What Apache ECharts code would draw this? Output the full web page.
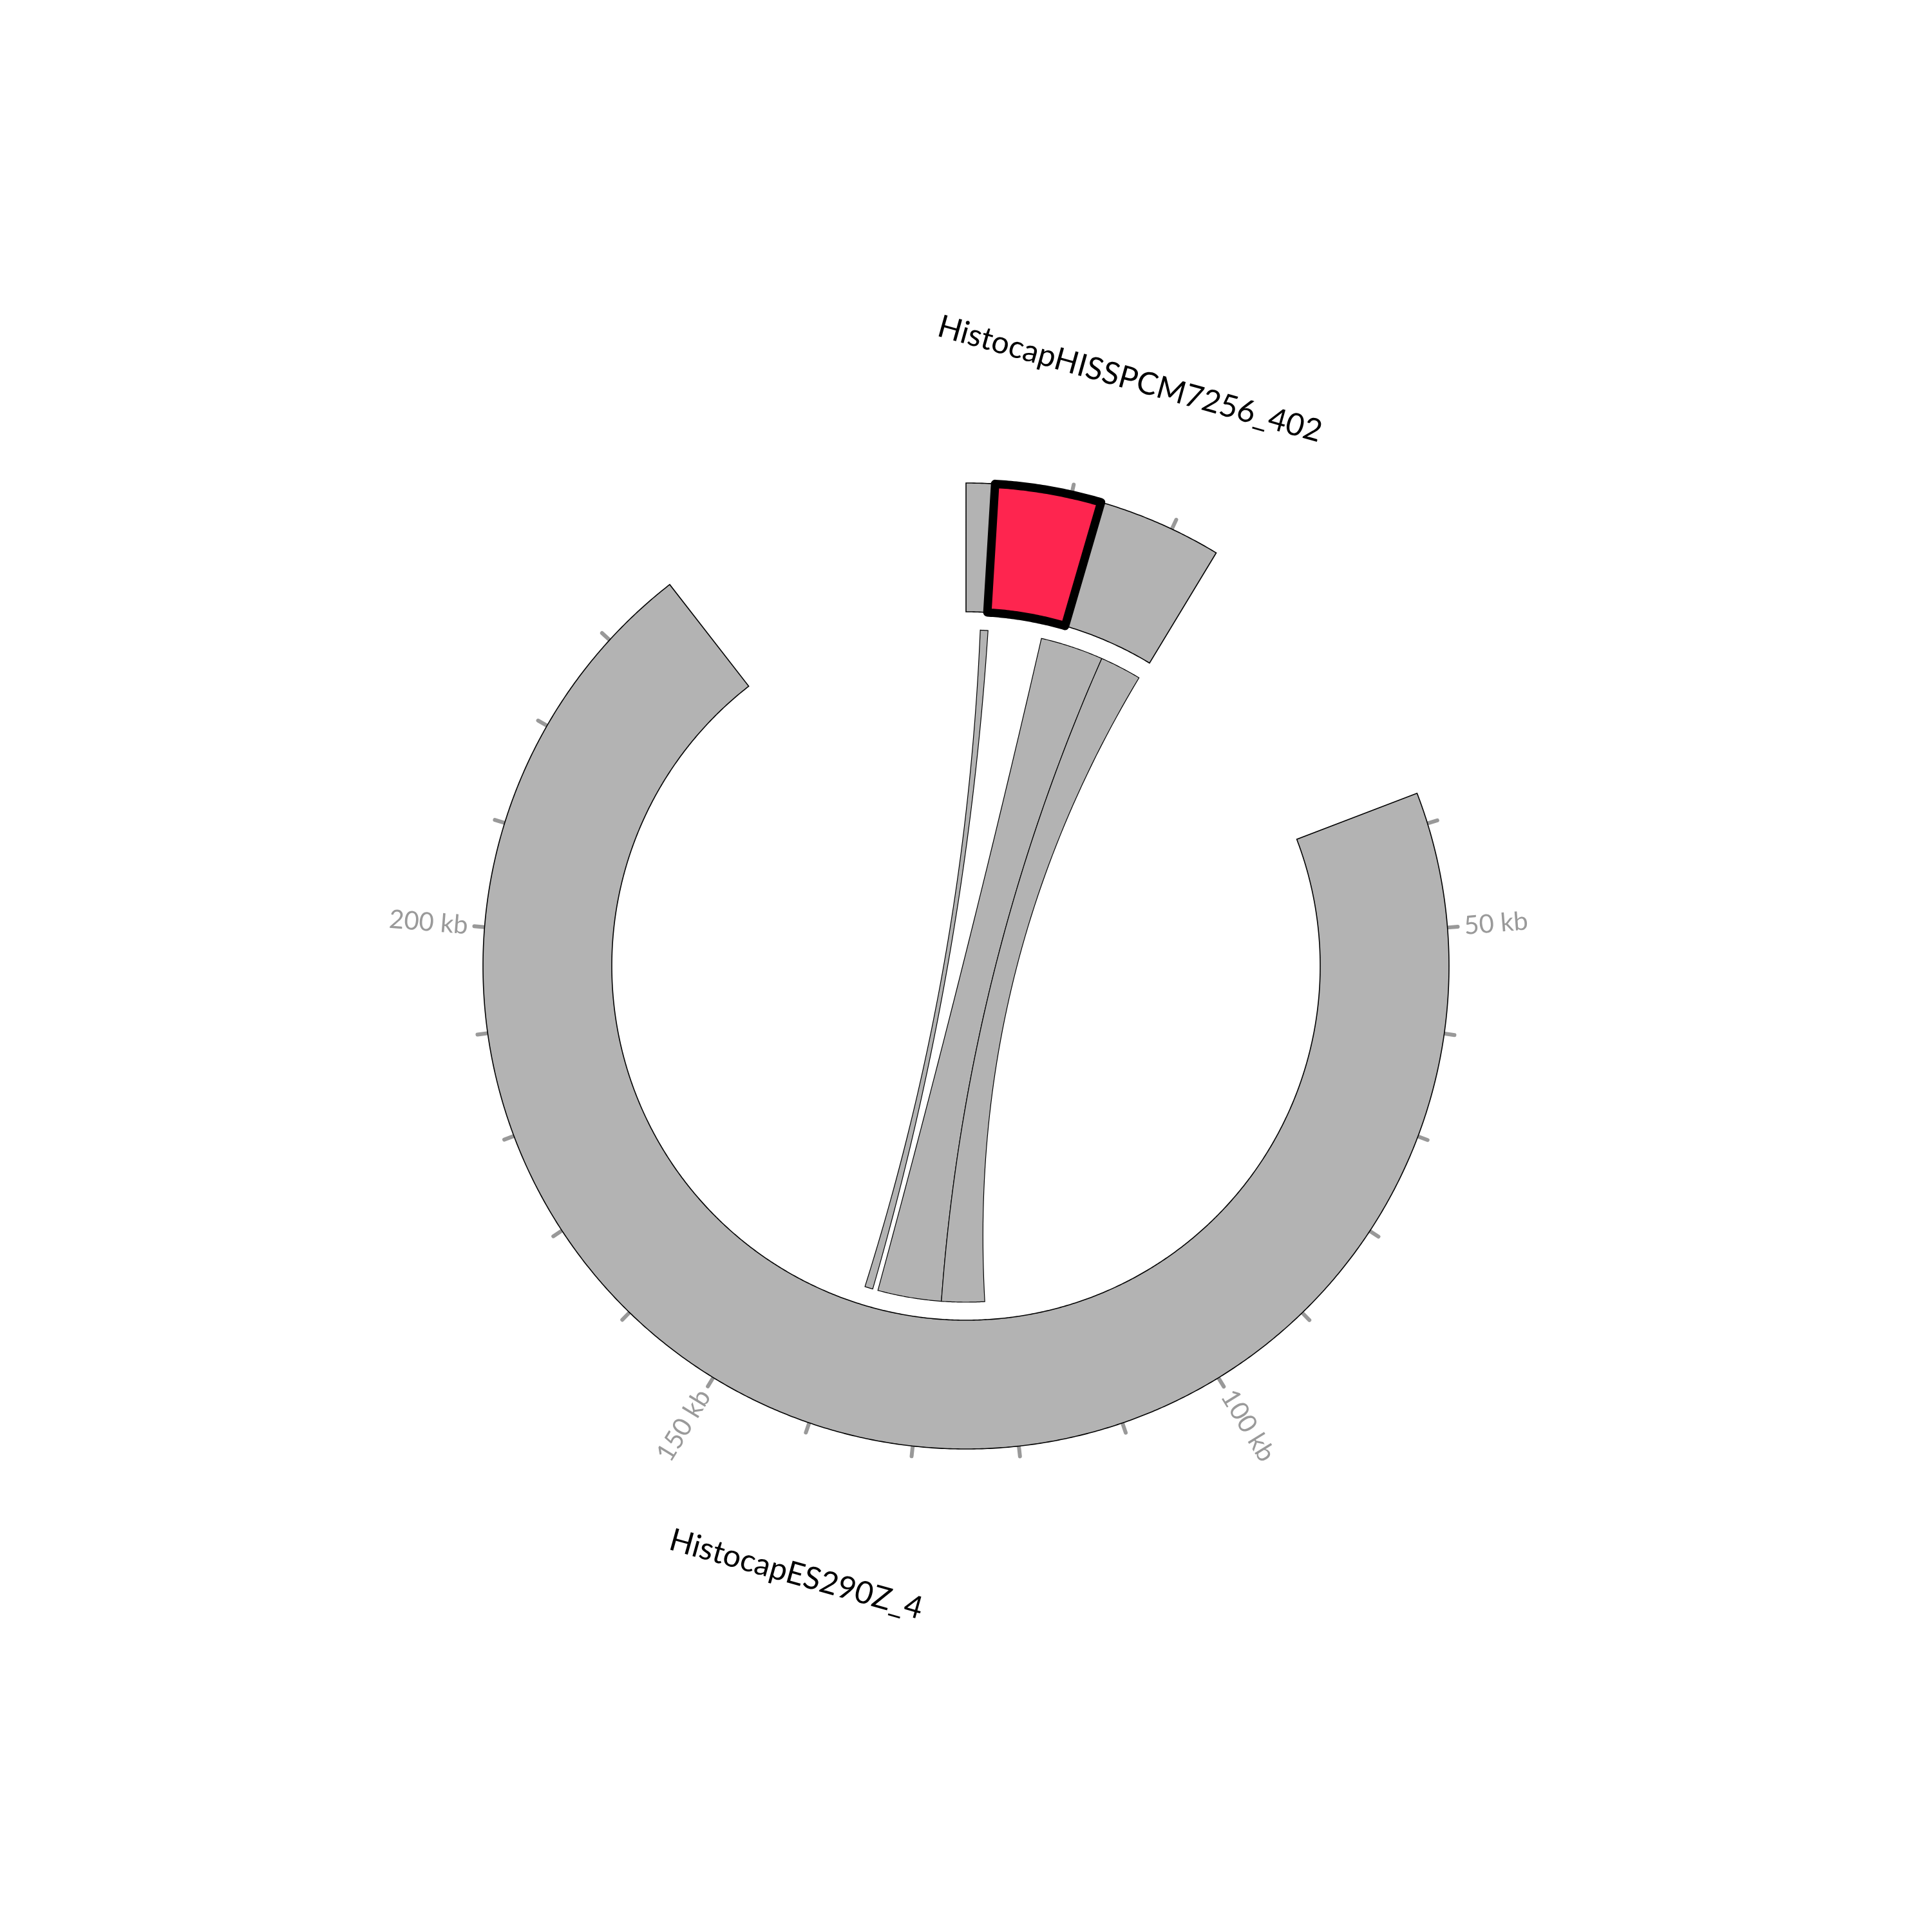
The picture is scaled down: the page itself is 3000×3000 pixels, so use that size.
<!DOCTYPE html>
<html><head><meta charset="utf-8">
<script src="https://cdn.jsdelivr.net/npm/echarts@6/dist/echarts.min.js"></script>
<style>html,body{margin:0;padding:0;background:#fff}#c{width:3000px;height:3000px}</style>
</head><body><div id="c"></div>
<script>
// ---- data ----
const contigNames = ['HistocapHISSPCM7256_402', 'HistocapES290Z_4'];
const contigStartKb = [0, 37.0];
const contigEndKb = [24.74, 237.7];
const gapKb = 30;
const smallTicksKb = [10, 20];
const bigTicksKb = [40, 50, 60, 70, 80, 90, 100, 110, 120, 130, 140, 150, 160, 170, 180, 190, 200, 210, 220, 230];
const bigTickLabelsKb = [50, 100, 150, 200];
const linkSrcContig = [0, 0, 0];
const linkSrcStart = [1.93, 10.28, 18.89];
const linkSrcEnd = [2.98, 18.89, 24.56];
const linkTgtContig = [1, 1, 1];
const linkTgtStart = [137.75, 128.31, 122.44];
const linkTgtEnd = [138.85, 137.03, 128.31];
const hlContig = [0];
const hlStart = [2.74];
const hlEnd = [12.88];

// ---- layout ----
const R_IN = 550, R_OUT = 750, R_LINK = 522, R_TICK0 = 749, R_TICK1 = 766, R_TLABEL = 776;
const FONT = 'Lato, "Open Sans", sans-serif';
const lens = contigEndKb.map((e, i) => e - contigStartKb[i]);
const gStart = [];
let acc = 0;
for (let i = 0; i < lens.length; i++) { gStart.push(acc); acc += lens[i] + gapKb; }
const TOTAL = acc;
const G = (i, kb) => gStart[i] + kb - contigStartKb[i];

function arc(api, r, g0, g1) {
  const n = Math.max(2, Math.ceil(Math.abs(g1 - g0) / 0.25));
  const pts = [];
  for (let k = 0; k <= n; k++) pts.push(api.coord([r, g0 + (g1 - g0) * k / n]));
  return pts;
}
function bez(api, p0, p2) {
  const c = api.coord([0, 0]);
  const pts = [];
  const n = 60;
  for (let k = 1; k < n; k++) {
    const t = k / n, u = 1 - t;
    pts.push([u * u * p0[0] + 2 * u * t * c[0] + t * t * p2[0], u * u * p0[1] + 2 * u * t * c[1] + t * t * p2[1]]);
  }
  return pts;
}
const dummy = n => Array.from({length: n}, () => [0, 0]);

const tickContig = smallTicksKb.map(() => 0).concat(bigTicksKb.map(() => 1));
const tickKb = smallTicksKb.concat(bigTicksKb);

const option = {
  backgroundColor: '#fff',
  animation: false,
  polar: {center: ['50%', '50%'], radius: R_OUT},
  angleAxis: {type: 'value', min: 0, max: TOTAL, startAngle: 90, clockwise: true,
    axisLine: {show: false}, axisTick: {show: false}, axisLabel: {show: false}, splitLine: {show: false}},
  radiusAxis: {type: 'value', min: 0, max: R_OUT,
    axisLine: {show: false}, axisTick: {show: false}, axisLabel: {show: false}, splitLine: {show: false}},
  series: [
    { // links
      type: 'custom', coordinateSystem: 'polar', data: dummy(linkSrcStart.length), z: 1,
      renderItem: (params, api) => {
        const i = params.dataIndex;
        const s0 = G(linkSrcContig[i], linkSrcStart[i]), s1 = G(linkSrcContig[i], linkSrcEnd[i]);
        const t0 = G(linkTgtContig[i], linkTgtStart[i]), t1 = G(linkTgtContig[i], linkTgtEnd[i]);
        const a1 = arc(api, R_LINK, s0, s1), a2 = arc(api, R_LINK, t0, t1);
        const pts = a1.concat(bez(api, a1[a1.length - 1], a2[0]), a2, bez(api, a2[a2.length - 1], a1[0]));
        return {type: 'polygon', shape: {points: pts}, style: {fill: '#b3b3b3', stroke: '#000', lineWidth: 1.2}};
      }
    },
    { // contigs
      type: 'custom', coordinateSystem: 'polar', data: dummy(contigNames.length), z: 2,
      renderItem: (params, api) => {
        const i = params.dataIndex;
        const g0 = G(i, contigStartKb[i]), g1 = G(i, contigEndKb[i]);
        const pts = arc(api, R_OUT, g0, g1).concat(arc(api, R_IN, g1, g0));
        return {type: 'polygon', shape: {points: pts}, style: {fill: '#b3b3b3', stroke: '#000', lineWidth: 1.6}};
      }
    },
    { // ticks
      type: 'custom', coordinateSystem: 'polar', data: dummy(tickKb.length), z: 1,
      renderItem: (params, api) => {
        const i = params.dataIndex;
        const g = G(tickContig[i], tickKb[i]);
        const p0 = api.coord([R_TICK0, g]), p1 = api.coord([R_TICK1, g]);
        return {type: 'line', shape: {x1: p0[0], y1: p0[1], x2: p1[0], y2: p1[1]},
          style: {stroke: '#999999', lineWidth: 6, lineCap: 'round'}};
      }
    },
    { // highlight
      type: 'custom', coordinateSystem: 'polar', data: dummy(hlStart.length), z: 3,
      renderItem: (params, api) => {
        const i = params.dataIndex;
        const g0 = G(hlContig[i], hlStart[i]), g1 = G(hlContig[i], hlEnd[i]);
        const pts = arc(api, R_OUT, g0, g1).concat(arc(api, R_IN, g1, g0));
        return {type: 'polygon', shape: {points: pts},
          style: {fill: '#fe254f', stroke: '#000', lineWidth: 13, lineJoin: 'round'}};
      }
    },
    { // tick labels
      type: 'custom', coordinateSystem: 'polar', data: dummy(bigTickLabelsKb.length), z: 4,
      renderItem: (params, api) => {
        const i = params.dataIndex;
        const g = G(1, bigTickLabelsKb[i]);
        const c = api.coord([0, g]), p = api.coord([R_TLABEL, g]);
        const phi = Math.atan2(p[1] - c[1], p[0] - c[0]);
        const right = p[0] >= c[0];
        const rot = right ? -phi : -(phi + Math.PI);
        return {type: 'text', x: p[0], y: p[1], rotation: rot,
          style: {text: bigTickLabelsKb[i] + ' kb', fill: '#9a9a9a', fontSize: 40, fontFamily: FONT,
            align: right ? 'left' : 'right', verticalAlign: 'middle'}};
      }
    },
    { // contig titles
      type: 'custom', coordinateSystem: 'polar', data: dummy(contigNames.length), z: 4,
      renderItem: (params, api) => {
        const i = params.dataIndex;
        const g = (G(i, contigStartKb[i]) + G(i, contigEndKb[i])) / 2;
        const c = api.coord([0, g]), q = api.coord([R_OUT, g]);
        const lower = q[1] > c[1];
        const p = api.coord([lower ? 981 : 946, g]);
        const phi = Math.atan2(p[1] - c[1], p[0] - c[0]);
        const rot = lower ? -(phi - Math.PI / 2) : -(phi + Math.PI / 2);
        return {type: 'text', x: p[0], y: p[1], rotation: rot,
          style: {text: contigNames[i], fill: '#000', fontSize: 48.5, fontFamily: FONT,
            align: 'center', verticalAlign: 'middle'}};
      }
    }
  ]
};
const chart = echarts.init(document.getElementById('c'), null, {width: 3000, height: 3000});
chart.setOption(option);
</script></body></html>
